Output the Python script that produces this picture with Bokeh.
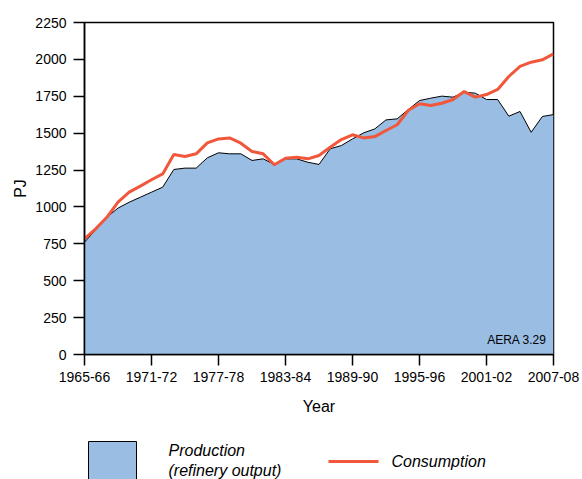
from bokeh.plotting import figure
from bokeh.models import Range1d, FixedTicker, Label, ColumnDataSource
from bokeh.layouts import column
from bokeh.embed import file_html
from bokeh.resources import INLINE
from bokeh.core.properties import value

years = [f"{y}-{str(y + 1)[-2:]}" for y in range(1965, 2008)]
production = [761, 845, 930, 992, 1032, 1066, 1100, 1134, 1254, 1263,
              1263, 1333, 1367, 1360, 1360, 1315, 1326, 1288, 1326, 1326,
              1303, 1288, 1394, 1416, 1461, 1502, 1529, 1590, 1597, 1660,
              1721, 1737, 1751, 1744, 1778, 1771, 1728, 1728, 1615, 1647,
              1506, 1613, 1626]
consumption = [784, 852, 930, 1032, 1100, 1141, 1184, 1224, 1355, 1342,
               1360, 1434, 1461, 1468, 1432, 1376, 1360, 1286, 1330, 1337,
               1326, 1349, 1405, 1457, 1489, 1468, 1477, 1518, 1557, 1655,
               1699, 1687, 1703, 1728, 1782, 1744, 1762, 1796, 1884, 1952,
               1981, 1997, 2038]
y_ticks = [0, 250, 500, 750, 1000, 1250, 1500, 1750, 2000, 2250]
x_tick_idx = [0, 6, 12, 18, 24, 30, 36, 42]

FONT = "Liberation Sans"
BLUE = "#99BDE3"
RED = "#F0573B"

src = ColumnDataSource(dict(x=list(range(len(years))), prod=production, cons=consumption))

p = figure(width=582, height=420, output_backend="svg", toolbar_location=None,
           x_range=Range1d(0, len(years) - 1), y_range=Range1d(0, 2250),
           min_border_left=84, min_border_right=29, min_border_top=22, min_border_bottom=66)
p.xgrid.visible = False
p.ygrid.visible = False
p.outline_line_color = "black"
p.outline_line_width = 1.5
p.background_fill_color = "white"
p.border_fill_color = "white"

p.varea(x="x", y1=0, y2="prod", source=src, fill_color=BLUE)
p.line(x="x", y="prod", source=src, line_color="black", line_width=1)
p.line(x="x", y="cons", source=src, line_color=RED, line_width=3)

p.xaxis.ticker = FixedTicker(ticks=x_tick_idx)
p.xaxis.major_label_overrides = {i: years[i] for i in x_tick_idx}
p.yaxis.ticker = FixedTicker(ticks=y_ticks)
for ax in (p.xaxis, p.yaxis):
    ax.axis_line_color = "black"
    ax.axis_line_width = 1.5
    ax.major_tick_line_color = "black"
    ax.major_tick_line_width = 1.5
    ax.major_tick_out = 11
    ax.major_tick_in = 0
    ax.minor_tick_line_color = None
    ax.major_label_text_font = FONT
    ax.major_label_text_font_size = "14px"
    ax.major_label_text_color = "black"
    ax.axis_label_text_font = FONT
    ax.axis_label_text_font_size = "16px"
    ax.axis_label_text_font_style = "normal"
    ax.axis_label_text_color = "black"
p.xaxis.major_label_standoff = 6
p.yaxis.major_label_standoff = 7
p.xaxis.axis_label = "Year"
p.yaxis.axis_label = "PJ"
p.xaxis.axis_label_standoff = 13
p.yaxis.axis_label_standoff = 3

p.add_layout(Label(x=len(years) - 1, y=0, text="AERA 3.29", text_font=FONT,
                   text_font_size="12px", text_align="right", text_baseline="bottom",
                   x_offset=-7, y_offset=8, text_color="black"))

# legend panel: its frame is aligned with the main frame (84..553 px), so use pixel-like ranges
lg = figure(width=582, height=59, output_backend="svg", toolbar_location=None,
            x_range=Range1d(84, 553), y_range=Range1d(59, 0),
            x_axis_type=None, y_axis_type=None, min_border=0)
lg.xgrid.visible = False
lg.ygrid.visible = False
lg.outline_line_color = None
lg.quad(left=[88], right=[136], top=[21], bottom=[62], fill_color=BLUE,
        line_color="black", line_width=1)
lg.text(x=[168, 168], y=[30, 50], text=["Production", "(refinery output)"],
        text_font=value(FONT), text_font_size="16px",
        text_font_style="italic", text_baseline="middle", text_color="black")
lg.line(x=[328, 378], y=[41, 41], line_color=RED, line_width=3)
lg.text(x=[391], y=[41], text=["Consumption"], text_font=value(FONT),
        text_font_size="16px", text_font_style="italic", text_baseline="middle",
        text_color="black")

layout = column(p, lg, spacing=0)
open("out.html", "w").write(file_html(layout, INLINE))
